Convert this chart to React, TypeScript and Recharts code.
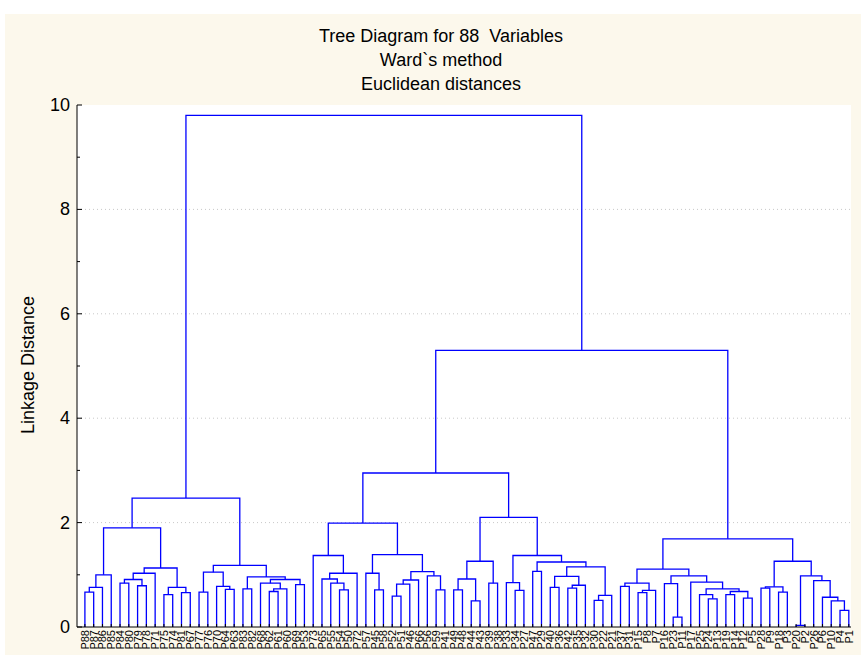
import React from "react";
import { LineChart, Line, XAxis, YAxis, ReferenceLine } from "recharts";

const leaves: string[] = ["P88","P87","P86","P85","P84","P80","P79","P78","P71","P75","P74","P81","P67","P77","P76","P70","P64","P63","P83","P82","P68","P62","P61","P60","P69","P53","P73","P65","P55","P54","P50","P72","P57","P45","P58","P52","P51","P46","P66","P56","P59","P41","P49","P48","P44","P43","P39","P38","P33","P34","P27","P47","P29","P40","P36","P42","P35","P32","P30","P22","P21","P37","P31","P15","P8","P7","P16","P23","P11","P17","P25","P24","P13","P19","P14","P12","P5","P28","P9","P18","P3","P20","P2","P26","P6","P10","P4","P1"];

// [left child, right child, linkage distance]; numbers refer to earlier merges
type Node = string | number;
const merges: [Node, Node, number][] = [
  ["P88","P87",0.67],[0,"P86",0.76],[1,"P85",1.0],["P84","P80",0.84],["P79","P78",0.79],
  [3,4,0.91],[5,"P71",1.03],["P75","P74",0.62],["P81","P67",0.66],[7,8,0.76],
  [6,9,1.13],[2,10,1.9],["P77","P76",0.67],["P64","P63",0.72],["P70",13,0.78],
  [12,14,1.05],["P83","P82",0.73],["P62","P61",0.68],[17,"P60",0.73],["P68",18,0.84],
  ["P69","P53",0.81],[19,20,0.91],[16,21,0.96],[15,22,1.18],[11,23,2.47],
  ["P54","P50",0.71],["P55",25,0.84],["P65",26,0.92],[27,"P72",1.03],["P73",28,1.37],
  ["P45","P58",0.71],["P57",30,1.03],["P52","P51",0.59],[32,"P46",0.82],[33,"P66",0.9],
  ["P59","P41",0.71],["P56",35,0.98],[34,36,1.06],[31,37,1.385],[29,38,1.99],
  ["P49","P48",0.71],["P44","P43",0.5],[40,41,0.92],["P39","P38",0.84],[42,43,1.26],
  ["P34","P27",0.7],["P33",45,0.85],["P47","P29",1.065],["P40","P36",0.76],["P42","P35",0.745],
  [49,"P32",0.8],[48,50,0.97],["P30","P22",0.51],[52,"P21",0.605],[51,53,1.15],
  [47,54,1.245],[46,55,1.37],[44,56,2.1],[39,57,2.95],
  ["P37","P31",0.78],["P15","P8",0.66],[60,"P7",0.7],[59,61,0.84],["P23","P11",0.19],
  ["P16",63,0.83],["P24","P13",0.54],["P25",65,0.62],["P19","P14",0.62],["P12","P5",0.555],
  [67,68,0.68],[66,69,0.73],["P17",70,0.86],[64,71,0.98],[62,72,1.11],
  ["P28","P9",0.745],["P18","P3",0.67],[74,75,0.77],["P20","P2",0.03],["P4","P1",0.32],
  ["P10",78,0.5],["P6",79,0.57],["P26",80,0.89],[77,81,0.98],[76,82,1.26],
  [73,83,1.69],[58,84,5.3],[24,85,9.8],
];

const yMajor = [0, 2, 4, 6, 8, 10];
const yTicks = [0,1,2,3,4,5,6,7,8,9,10];
const titleLines = ["Tree Diagram for 88  Variables", "Ward`s method", "Euclidean distances"];
const yTitle = "Linkage Distance";

const FONT = "'Liberation Sans', Arial, sans-serif";
const BLUE = "#0000ff";

function buildLinks() {
  const pos: { x: number; h: number }[] = [];
  const get = (n: Node) => (typeof n === "number" ? pos[n] : { x: leaves.indexOf(n), h: 0 });
  return merges.map(([l, r, h], i) => {
    const a = get(l);
    const b = get(r);
    pos[i] = { x: (a.x + b.x) / 2, h };
    return [
      { x: a.x, y: a.h },
      { x: a.x, y: h },
      { x: b.x, y: h },
      { x: b.x, y: b.h },
    ];
  });
}

const links = buildLinks();
const leafTicks = leaves.map((_, i) => i);

const BottomTick = (props: any) => {
  const { x, y, payload } = props;
  return (
    <g>
      <line x1={x} y1={y} x2={x} y2={y - 3} stroke="#000" strokeWidth={1} />
      <text
        x={x}
        y={y + 3}
        transform={`rotate(-90 ${x} ${y + 3})`}
        textAnchor="end"
        dominantBaseline="central"
        fontSize={11}
        fontFamily={FONT}
        fill="#000"
      >
        {leaves[payload.value]}
      </text>
    </g>
  );
};

const TopTick = (props: any) => {
  const { x, y } = props;
  return <line x1={x} y1={y} x2={x} y2={y + 3} stroke="#000" strokeWidth={1} />;
};

const LeftTick = (props: any) => {
  const { x, y, payload } = props;
  const major = yMajor.includes(payload.value);
  return (
    <g>
      <line x1={x} y1={y} x2={x + (major ? 5 : 3)} y2={y} stroke="#000" strokeWidth={1} />
      {major && (
        <text x={x - 7} y={y} textAnchor="end" dominantBaseline="central" fontSize={18} fontFamily={FONT} fill="#000">
          {payload.value}
        </text>
      )}
    </g>
  );
};

const RightTick = (props: any) => {
  const { x, y, payload } = props;
  const major = yMajor.includes(payload.value);
  return <line x1={x} y1={y} x2={x - (major ? 5 : 3)} y2={y} stroke="#000" strokeWidth={1} />;
};

export default function App() {
  return (
    <div style={{ position: "absolute", left: 0, top: 0, width: 861, height: 655, background: "#fff" }}>
      <div style={{ position: "absolute", left: 5, top: 14, width: 856, height: 641, background: "#fcf8ec" }}>
        {titleLines.map((t, i) => (
          <div
            key={i}
            style={{
              position: "absolute",
              left: 0,
              width: 872,
              top: 11 + i * 24,
              height: 22,
              lineHeight: "22px",
              textAlign: "center",
              fontFamily: FONT,
              fontSize: 18,
              color: "#000",
              whiteSpace: "pre",
            }}
          >
            {t}
          </div>
        ))}
        <div
          style={{
            position: "absolute",
            left: 23 - 100,
            top: 351 - 11,
            width: 200,
            height: 22,
            lineHeight: "22px",
            textAlign: "center",
            transform: "rotate(-90deg)",
            fontFamily: FONT,
            fontSize: 18,
            color: "#000",
          }}
        >
          {yTitle}
        </div>
        <div style={{ position: "absolute", left: 0, top: 0 }}>
          <LineChart width={856} height={641} margin={{ top: 91, right: 10, left: 0, bottom: 0 }}>
            <rect x={72} y={91} width={774} height={522} fill="#fff" />
            <XAxis
              type="number"
              dataKey="x"
              domain={[-0.9, 87.25]}
              allowDataOverflow
              ticks={leafTicks}
              interval={0}
              height={28}
              tickSize={0}
              tickMargin={0}
              tickLine={false}
              axisLine={{ stroke: "#000" }}
              tick={<BottomTick />}
            />
            <XAxis
              xAxisId="top"
              orientation="top"
              type="number"
              dataKey="x"
              domain={[-0.9, 87.25]}
              allowDataOverflow
              ticks={leafTicks}
              interval={0}
              height={0}
              tickSize={0}
              tickMargin={0}
              tickLine={false}
              axisLine={{ stroke: "#000" }}
              tick={<TopTick />}
            />
            <YAxis
              type="number"
              domain={[0, 10]}
              ticks={yTicks}
              interval={0}
              width={72}
              tickSize={0}
              tickMargin={0}
              tickLine={false}
              axisLine={{ stroke: "#000" }}
              tick={<LeftTick />}
            />
            <YAxis
              yAxisId="right"
              orientation="right"
              type="number"
              domain={[0, 10]}
              ticks={yTicks}
              interval={0}
              width={0}
              tickSize={0}
              tickMargin={0}
              tickLine={false}
              axisLine={{ stroke: "#000" }}
              tick={<RightTick />}
            />
            {[2, 4, 6, 8].map((v) => (
              <ReferenceLine key={v} y={v} stroke="#c8c8c8" strokeDasharray="1 3" />
            ))}
            {links.map((d, i) => (
              <Line
                key={i}
                data={d}
                dataKey="y"
                type="linear"
                stroke={BLUE}
                strokeWidth={1.3}
                dot={false}
                activeDot={false}
                isAnimationActive={false}
                legendType="none"
              />
            ))}
          </LineChart>
        </div>
      </div>
    </div>
  );
}
